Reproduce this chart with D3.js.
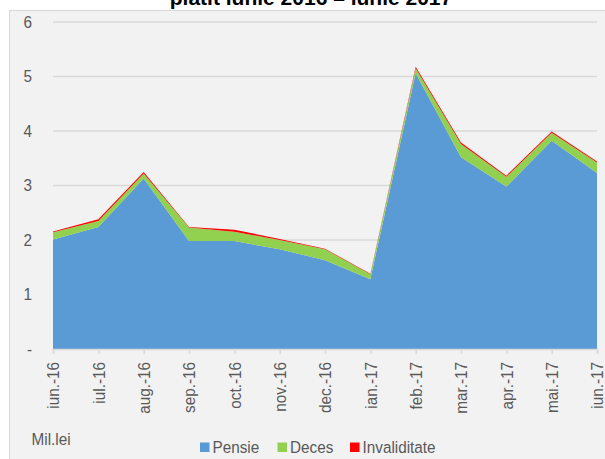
<!DOCTYPE html>
<html>
<head>
<meta charset="utf-8">
<script src="https://cdn.jsdelivr.net/npm/d3@7"></script>
<style>
  html, body { margin: 0; padding: 0; background: #ffffff; }
  svg { display: block; }
  text { font-family: "Liberation Sans", Arial, sans-serif; }
</style>
</head>
<body>
<div id="chart"></div>
<script>
  // luni, Mil. lei
  const months = ['iun.-16', 'iul.-16', 'aug.-16', 'sep.-16', 'oct.-16', 'nov.-16', 'dec.-16',
    'ian.-17', 'feb.-17', 'mar.-17', 'apr.-17', 'mai.-17', 'iun.-17'];
  const pensie = [2.01, 2.24, 3.13, 1.98, 1.98, 1.83, 1.63, 1.28, 5.06, 3.52, 2.98, 3.82, 3.23];
  const deces = [0.13, 0.11, 0.09, 0.25, 0.17, 0.17, 0.2, 0.09, 0.09, 0.24, 0.18, 0.15, 0.19];
  const invaliditate = [0.015, 0.03, 0.03, 0.01, 0.04, 0.02, 0.01, 0.01, 0.03, 0.03, 0.02, 0.02, 0.02];
  const yTicks = [0, 1, 2, 3, 4, 5, 6];
  const seriesNames = ['Pensie', 'Deces', 'Invaliditate'];
  const seriesColors = ['#5b9bd5', '#92d050', '#ff0000'];

  const width = 605;
  const height = 459;
  const margin = { top: 22, right: 8, bottom: 110, left: 53 };
  const squeeze = 0.9; // narrow-ish font look
  const grey = '#595959';

  const rows = months.map((m, i) => ({
    month: m,
    Pensie: pensie[i],
    Deces: deces[i],
    Invaliditate: invaliditate[i]
  }));

  const stacked = d3.stack().keys(seriesNames)(rows);

  const x = d3.scalePoint().domain(months).range([margin.left, width - margin.right]);
  const y = d3.scaleLinear().domain([0, 6]).range([height - margin.bottom, margin.top]);

  const svg = d3.select('#chart').append('svg').attr('width', width).attr('height', height);

  // chart area background
  svg.append('rect')
    .attr('x', 9.5).attr('y', 10.5)
    .attr('width', width).attr('height', height)
    .attr('fill', '#f2f2f2')
    .attr('stroke', '#d9d9d9')
    .attr('stroke-width', 1);

  // title (cut off at top)
  svg.append('text')
    .attr('x', 311).attr('y', 5)
    .attr('text-anchor', 'middle')
    .attr('font-weight', 'bold')
    .attr('font-size', 21)
    .attr('fill', '#000')
    .text('platit iunie 2016 – iunie 2017');

  // gridlines
  svg.append('g')
    .selectAll('line')
    .data(yTicks.filter((d) => d > 0))
    .join('line')
    .attr('x1', margin.left).attr('x2', width - margin.right)
    .attr('y1', (d) => y(d)).attr('y2', (d) => y(d))
    .attr('stroke', '#d9d9d9')
    .attr('stroke-width', 1.5);

  // areas
  const area = d3.area()
    .x((d) => x(d.data.month))
    .y0((d) => y(d[0]))
    .y1((d) => y(d[1]));

  svg.append('g')
    .selectAll('path')
    .data(stacked)
    .join('path')
    .attr('fill', (d, i) => seriesColors[i])
    .attr('d', area);

  // x axis
  const xAxis = svg.append('g')
    .attr('transform', `translate(0,${y(0)})`)
    .call(d3.axisBottom(x).tickSize(5).tickPadding(6));
  xAxis.select('.domain').attr('stroke', '#d9d9d9').attr('stroke-width', 1.5);
  xAxis.selectAll('.tick line').attr('stroke', '#d9d9d9').attr('stroke-width', 1.5);
  xAxis.selectAll('.tick text')
    .attr('font-family', null)
    .attr('font-size', 17)
    .attr('fill', grey)
    .attr('text-anchor', 'end')
    .attr('transform', `rotate(-90) scale(${squeeze},1)`)
    .attr('x', -13 / squeeze)
    .attr('y', 0)
    .attr('dy', '0.35em');
  xAxis.attr('font-family', null);

  // y axis labels
  svg.append('g')
    .selectAll('text')
    .data(yTicks)
    .join('text')
    .attr('transform', (d) => `translate(32,${y(d)}) scale(${squeeze},1)`)
    .attr('dy', '0.35em')
    .attr('text-anchor', 'end')
    .attr('font-size', 17)
    .attr('fill', grey)
    .text((d) => (d === 0 ? '-' : d));

  // unit
  svg.append('text')
    .attr('transform', `translate(31.5,444.5) scale(${squeeze},1)`)
    .attr('font-size', 17)
    .attr('fill', grey)
    .text('Mil.lei');

  // legend
  const legendX = [200, 277.5, 350];
  const legend = svg.append('g')
    .selectAll('g')
    .data(seriesNames)
    .join('g')
    .attr('transform', (d, i) => `translate(${legendX[i]},442.5)`);
  legend.append('rect')
    .attr('width', 9.5).attr('height', 9.5)
    .attr('fill', (d, i) => seriesColors[i]);
  legend.append('text')
    .attr('transform', `translate(12.5,10) scale(${squeeze},1)`)
    .attr('font-size', 17)
    .attr('fill', grey)
    .text((d) => d);
</script>
</body>
</html>
